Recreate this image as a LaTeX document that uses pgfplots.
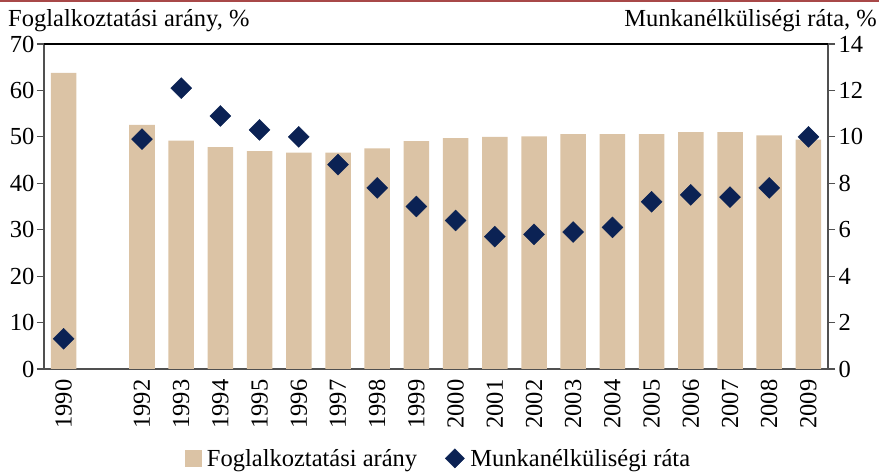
\documentclass[border=0pt]{standalone}
\usepackage{pgfplots}
\pgfplotsset{compat=1.18}
\usepackage{fontspec}
\setmainfont{Liberation Serif}
\definecolor{barc}{HTML}{DBC3A5}
\definecolor{dia}{HTML}{0B2254}
\definecolor{axc}{HTML}{505050}
\definecolor{redl}{HTML}{A84848}
\begin{document}
\begin{tikzpicture}
\useasboundingbox (-44pt,-104pt) rectangle (835pt,369pt);
\fill[redl] (-44pt,367pt) rectangle (835pt,369pt);
\pgfplotsset{every axis/.append style={
  scale only axis, width=784pt, height=325pt,
  xmin=-0.5, xmax=19.5,
  font=\fontsize{24.5}{27}\selectfont,
  /pgf/number format/assume math mode=true,
  axis line style={axc, line width=1.2pt},
  tick style={axc, line width=1.2pt},
  tick align=outside,
  major tick length=7pt,
}}
\begin{axis}[
  ymin=0, ymax=70, ytick={0,10,...,70},
  axis y line*=left, axis x line*=bottom,
  xtick={0,2,3,4,5,6,7,8,9,10,11,12,13,14,15,16,17,18,19},
  xticklabels={1990,1992,1993,1994,1995,1996,1997,1998,1999,2000,2001,2002,2003,2004,2005,2006,2007,2008,2009},
  x tick label style={rotate=90, anchor=east},
  xtick style={draw=none},
  minor xtick={-0.5,0.5,...,19.5},
  minor x tick style={axc, line width=1.2pt},
  minor tick length=7pt,
  yticklabel style={xshift=1pt},
]
\addplot[ybar, bar width=25.5pt, fill=barc, draw=none, forget plot] coordinates {
(0,63.8) (2,52.6) (3,49.2) (4,47.8) (5,46.9) (6,46.6) (7,46.6) (8,47.5)
(9,49.1) (10,49.7) (11,50.0) (12,50.1) (13,50.6) (14,50.6) (15,50.6)
(16,51.0) (17,51.0) (18,50.3) (19,49.4)};
\end{axis}
\begin{axis}[
  ymin=0, ymax=14, ytick={0,2,...,14},
  axis y line*=right, axis x line=none,
  xtick=\empty,
  clip=false,
  legend style={at={(0.503,-0.275)}, anchor=center, draw=none, fill=none,
    legend columns=2, font=\fontsize{24.5}{27}\selectfont,
    /tikz/every odd column/.append style={column sep=4pt},
    /tikz/every even column/.append style={column sep=26pt}},
]
\addlegendimage{legend image code/.code={\fill[barc] (0pt,-8pt) rectangle (16pt,8pt);}}
\addlegendentry{Foglalkoztatási arány}
\addplot[only marks, mark=square*, mark size=7.4pt, mark options={rotate=45, fill=dia, draw=dia},
  legend image code/.code={\draw[mark=square*, mark size=6.8pt, mark options={rotate=45, fill=dia, draw=dia}] plot coordinates {(8pt,0pt)};}] coordinates {
(0,1.3) (2,9.9) (3,12.1) (4,10.9) (5,10.3) (6,10.0) (7,8.8) (8,7.8)
(9,7.0) (10,6.4) (11,5.7) (12,5.8) (13,5.9) (14,6.1) (15,7.2)
(16,7.5) (17,7.4) (18,7.8) (19,10.0)};
\addlegendentry{Munkanélküliségi ráta}
\end{axis}
\draw[black, line width=1.4pt] (0pt,325pt) -- (784pt,325pt);
\node[anchor=base west, font=\fontsize{24.5}{27}\selectfont, inner sep=0pt] at (-36pt,342pt) {Foglalkoztatási arány, \%};
\node[anchor=base east, font=\fontsize{24.5}{27}\selectfont, inner sep=0pt] at (833pt,342pt) {Munkanélküliségi ráta, \%};
\end{tikzpicture}
\end{document}
